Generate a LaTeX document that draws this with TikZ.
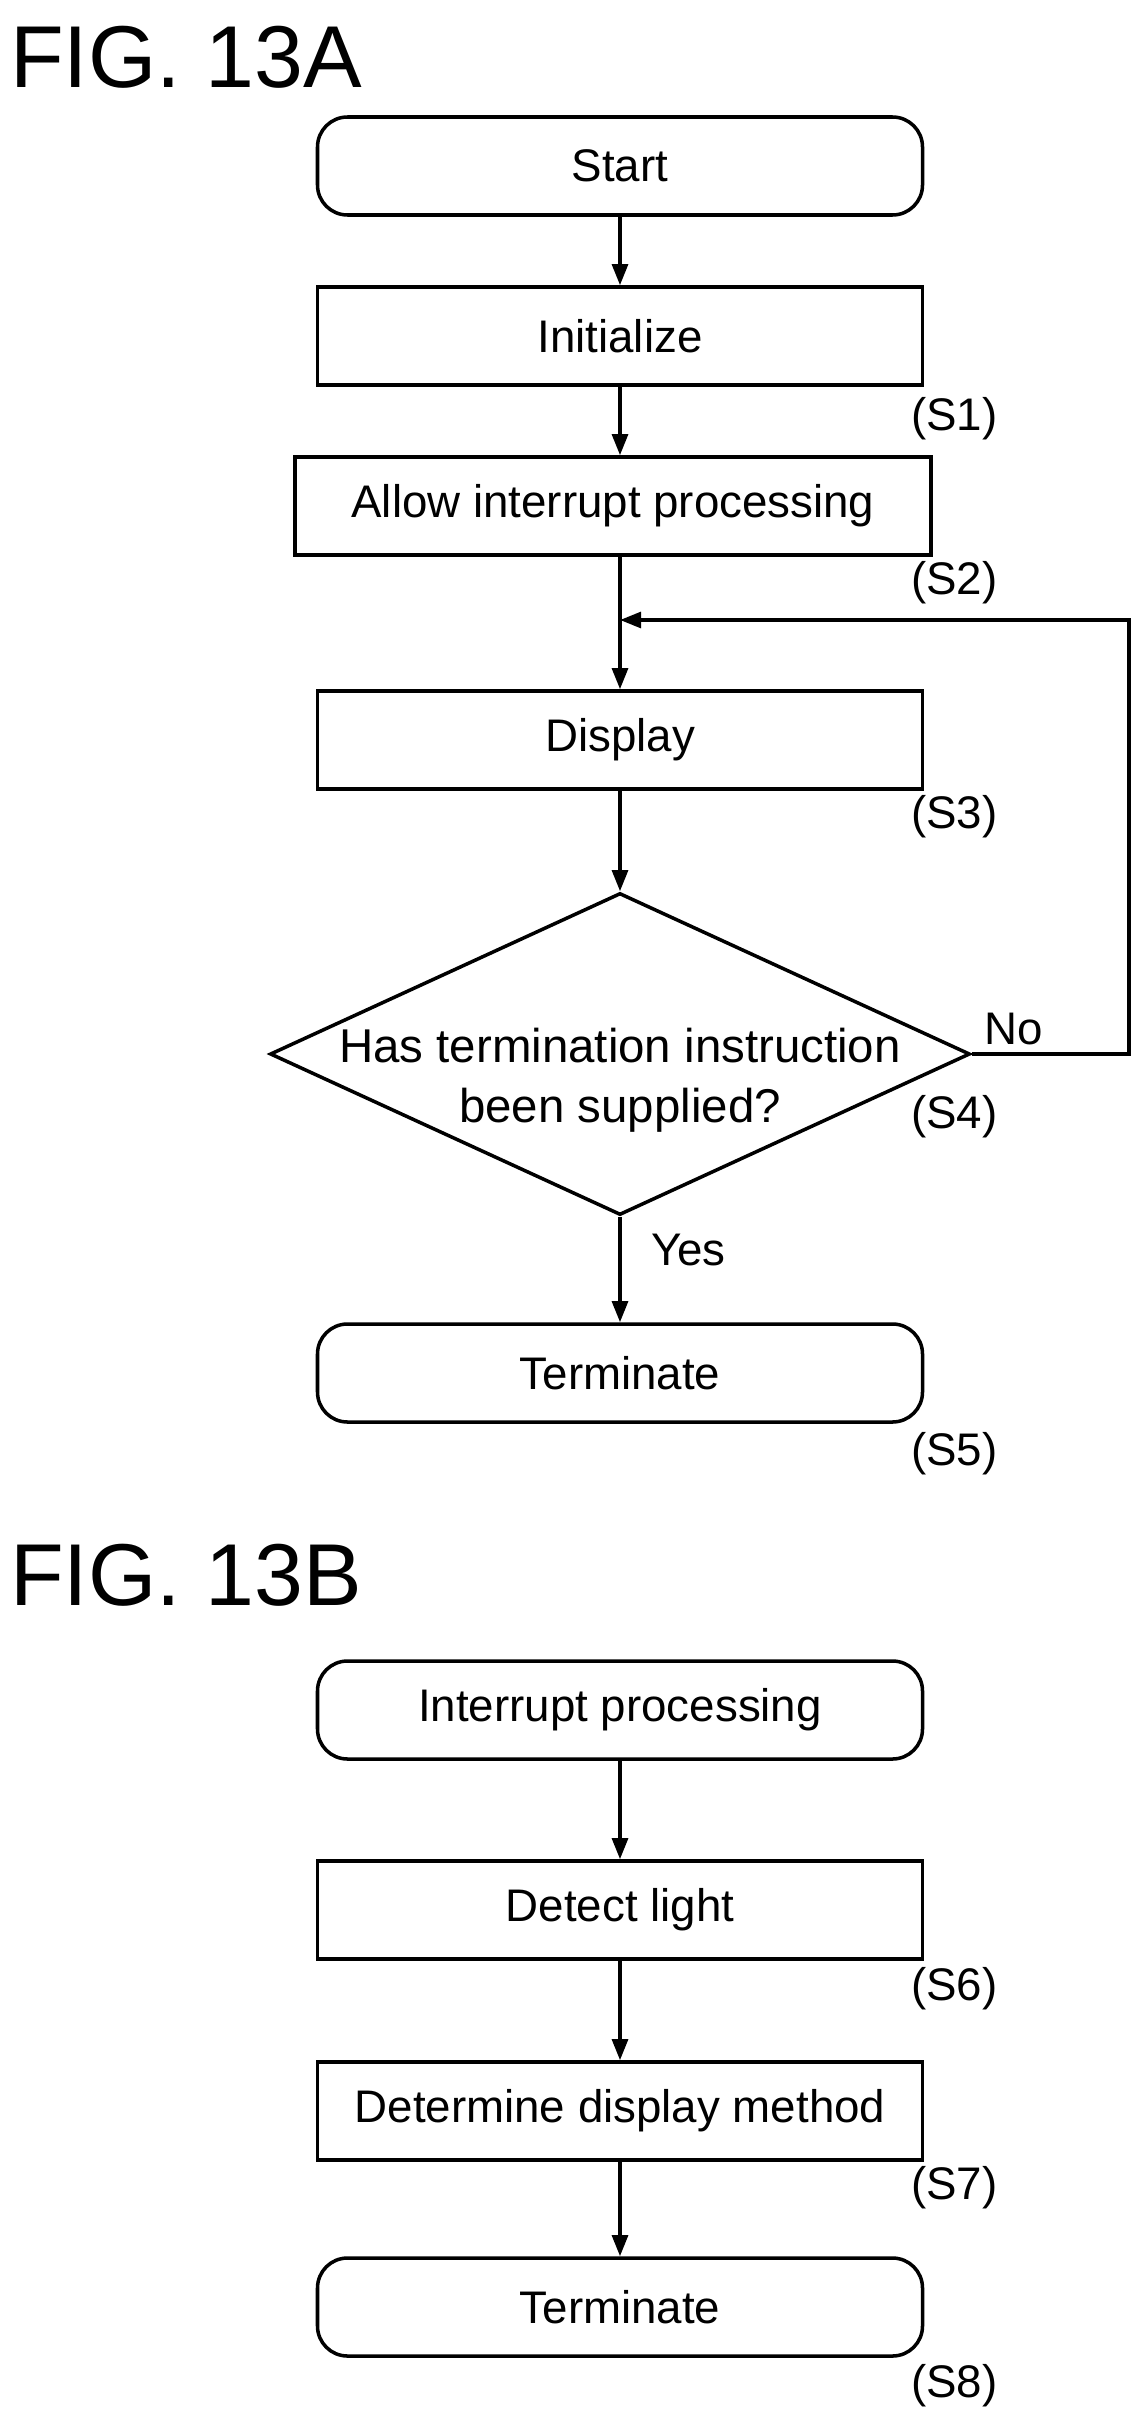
\documentclass[tikz,border=0pt]{standalone}
\usepackage{fontspec}
\setmainfont{Liberation Sans}
\usetikzlibrary{shapes.geometric,arrows.meta}
\begin{document}
\begin{tikzpicture}[x=0.02cm,y=-0.02cm,
  box/.style={draw,line width=2pt,minimum width=605*0.02cm,minimum height=98*0.02cm,inner sep=0pt,font=\fontsize{26}{30}\selectfont},
  rbox/.style={box,rounded corners=30*0.02cm},
  lab/.style={font=\fontsize{26}{30}\selectfont,anchor=west},
  fig/.style={font=\fontsize{50}{56}\selectfont},
  arr/.style={line width=2pt,-{Triangle[length=12pt,width=9pt]}}]
\useasboundingbox (0,0) rectangle (1148,2423);
\node[fig] (fa) at (186,57) {FIG. 13A};
\node[rbox] (start) at (620,166) {Start};
\node[box] (init) at (620,336) {Initialize};
\node[lab] (s1) at (905,419) {(S1)};
\node[box,minimum width=636*0.02cm] (allow) at (613,506) {Allow interrupt processing};
\node[lab] (s2) at (905,583) {(S2)};
\coordinate (join) at (620,620);
\coordinate (c1) at (1129,620);
\coordinate (c2) at (1129,1054);
\node[box] (disp) at (620,740) {Display};
\node[lab] (s3) at (905,817) {(S3)};
\node[diamond,draw,line width=2pt,minimum width=700*0.02cm,minimum height=322*0.02cm,aspect=2.2,inner sep=0pt] (dec) at (620,1054) {};
\node[align=center,font=\fontsize{27}{34}\selectfont] (dect) at (620,1080) {Has termination instruction\\been supplied?};
\node[lab] (no) at (978,1029) {No};
\node[lab] (s4) at (905,1117) {(S4)};
\node[lab] (yes) at (645,1250) {Yes};
\node[rbox] (term) at (620,1373) {Terminate};
\node[lab] (s5) at (905,1454) {(S5)};
\draw[arr] (start) -- (init);
\draw[arr] (init) -- (init.south |- allow.north);
\draw[arr] (init.south |- allow.south) -- (disp);
\draw[arr] (disp) -- (dec);
\draw[arr] (dec) -- (term);
\draw[arr] (dec.east) -- (c2) -- (c1) -- (join);
\node[fig] (fb) at (186,1575) {FIG. 13B};
\node[rbox] (ip) at (620,1710) {Interrupt processing};
\node[box] (dl) at (620,1910) {Detect light};
\node[lab] (s6) at (905,1989) {(S6)};
\node[box] (dm) at (620,2111) {Determine display method};
\node[lab] (s7) at (905,2188) {(S7)};
\node[rbox] (t2) at (620,2307) {Terminate};
\node[lab] (s8) at (905,2386) {(S8)};
\draw[arr] (ip) -- (dl);
\draw[arr] (dl) -- (dm);
\draw[arr] (dm) -- (t2);
\end{tikzpicture}
\end{document}
